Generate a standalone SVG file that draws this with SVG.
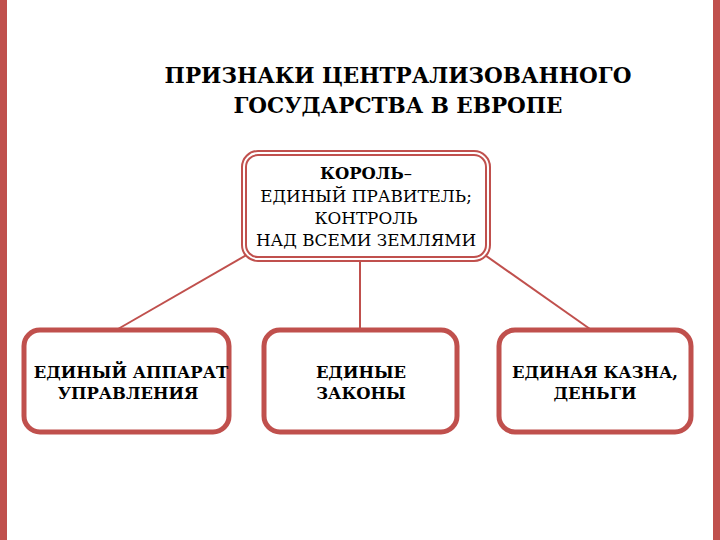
<svg xmlns="http://www.w3.org/2000/svg" width="720" height="540" viewBox="0 0 720 540">
<style>
.t{font-family:"DejaVu Serif","Liberation Serif",serif;fill:#000;text-anchor:middle}
.title{font-size:21.5px;font-weight:bold}
.b{font-size:16.4px;font-weight:bold}
.n{font-size:16.8px}
.box{fill:#fff;stroke:#c0504d;stroke-width:5}
.conn{stroke:#c0504d;stroke-width:2;fill:none}
</style>
<rect x="0" y="0" width="720" height="540" fill="#fff"/>
<rect x="0" y="0" width="7" height="540" fill="#c0504d"/>
<rect x="713" y="0" width="7" height="540" fill="#c0504d"/>
<g id="title">
<text class="t title" x="398" y="83">ПРИЗНАКИ ЦЕНТРАЛИЗОВАННОГО</text>
<text class="t title" x="398" y="113">ГОСУДАРСТВА В ЕВРОПЕ</text>
</g>
<g id="connectors">
<line class="conn" x1="250" y1="253" x2="118" y2="329"/>
<line class="conn" x1="360" y1="260" x2="360" y2="329"/>
<line class="conn" x1="482" y1="253" x2="590" y2="329"/>
</g>
<g id="king">
<rect x="244" y="153" width="244" height="106" rx="14" fill="#fff" stroke="#c0504d" stroke-width="6"/>
<rect x="244" y="153" width="244" height="106" rx="14" fill="none" stroke="#fff" stroke-width="2"/>
<text class="t b" x="366" y="179">КОРОЛЬ<tspan font-weight="normal">–</tspan></text>
<text class="t n" x="366" y="202">ЕДИНЫЙ ПРАВИТЕЛЬ;</text>
<text class="t n" x="366" y="224">КОНТРОЛЬ</text>
<text class="t n" x="366" y="246">НАД ВСЕМИ ЗЕМЛЯМИ</text>
</g>
<g id="apparatus">
<rect class="box" x="24" y="330" width="205" height="102" rx="16"/>
<text class="t b" x="131" y="378">ЕДИНЫЙ АППАРАТ</text>
<text class="t b" x="128" y="399">УПРАВЛЕНИЯ</text>
</g>
<g id="laws">
<rect class="box" x="264" y="330" width="193" height="102" rx="16"/>
<text class="t b" x="361" y="378">ЕДИНЫЕ</text>
<text class="t b" x="361" y="399">ЗАКОНЫ</text>
</g>
<g id="treasury">
<rect class="box" x="499" y="330" width="192" height="102" rx="16"/>
<text class="t b" x="595" y="378">ЕДИНАЯ КАЗНА,</text>
<text class="t b" x="595" y="399">ДЕНЬГИ</text>
</g>
</svg>
